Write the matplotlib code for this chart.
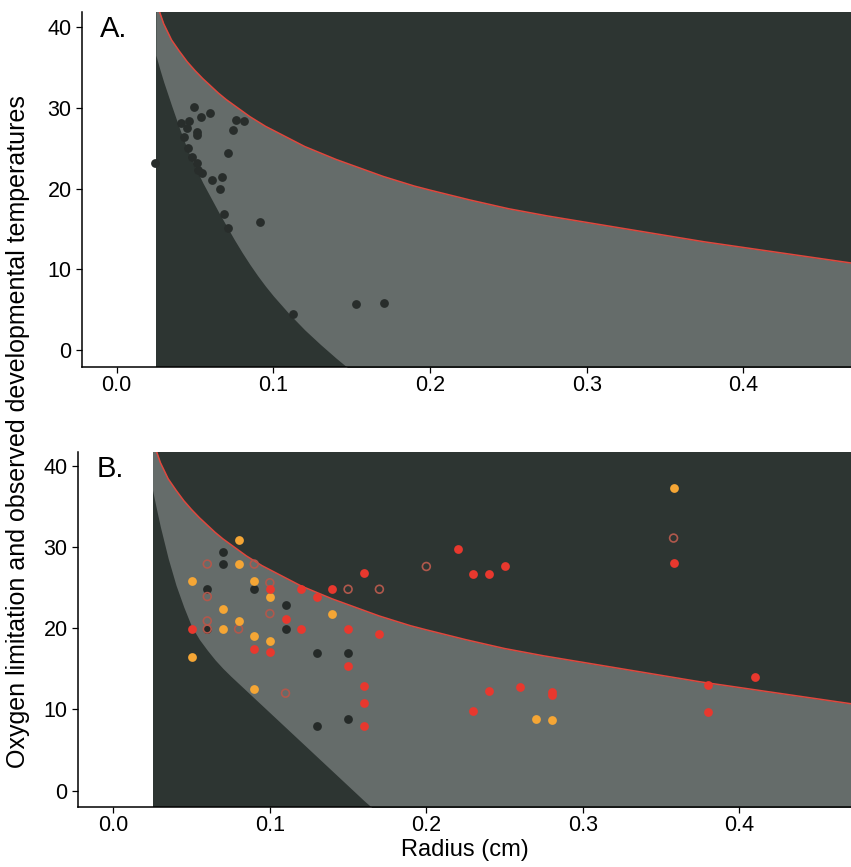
import matplotlib

matplotlib.use("Agg")

import matplotlib.pyplot as plt

# boundary curves (radius in cm, temperature)
curve_r = [0.025, 0.0275, 0.03, 0.035, 0.04, 0.045, 0.05, 0.055, 0.06, 0.065,
           0.07, 0.075, 0.08, 0.085, 0.09, 0.095, 0.10, 0.11, 0.12, 0.13,
           0.14, 0.15, 0.16, 0.17, 0.18, 0.19, 0.20, 0.225, 0.25, 0.275,
           0.30, 0.325, 0.35, 0.375, 0.40, 0.425, 0.45, 0.475]
upper_T = [43.3, 41.8, 40.4, 38.4, 37.0, 35.7, 34.6, 33.6, 32.7, 31.8,
           31.0, 30.3, 29.6, 28.9, 28.3, 27.7, 27.2, 26.2, 25.2, 24.4,
           23.6, 22.9, 22.2, 21.5, 20.9, 20.3, 19.8, 18.6, 17.5, 16.6,
           15.8, 15.0, 14.2, 13.4, 12.7, 12.0, 11.3, 10.6]
lower_T_a = [36.5, 34.8, 33.2, 30.3, 27.5, 24.9, 22.7, 20.7, 18.9, 17.1,
             15.4, 13.7, 12.1, 10.6, 9.2, 7.9, 6.7, 4.5, 2.5, 0.7,
             -1.0, -2.6, -4.1, -5.5, -6.8, -8.0, -9.2, -12.0, -14.5, -16.8,
             -19.0, -21.0, -23.0, -24.8, -26.5, -28.0, -29.5, -31.0]
lower_T_b = [37.0, 34.7, 32.5, 28.6, 25.3, 22.6, 20.2, 18.6, 17.3, 16.1,
             15.05, 14.1, 13.2, 12.3, 11.4, 10.5, 9.6, 7.8, 6.0, 4.2,
             2.4, 0.6, -1.2, -2.9, -4.6, -6.2, -7.8, -11.0, -14.0, -16.5,
             -19.0, -21.0, -23.0, -24.8, -26.5, -28.0, -29.5, -31.0]
fill_start = 0.025

# panel A observations
a_r = [0.0495, 0.0595, 0.0463, 0.0538, 0.0759, 0.0814, 0.0447, 0.0514, 0.0514,
       0.0744, 0.041, 0.0431, 0.0712, 0.0457, 0.0479, 0.051, 0.0521, 0.0542,
       0.0606, 0.0674, 0.0659, 0.0685, 0.0712, 0.0244, 0.0915, 0.1127, 0.1527,
       0.1706]
a_T = [30.05, 29.4, 28.4, 28.8, 28.5, 28.4, 27.45, 27.0, 26.6,
       27.2, 28.1, 26.4, 24.4, 25.0, 23.9, 23.1, 22.3, 21.9,
       21.0, 21.4, 19.9, 16.9, 15.1, 23.2, 15.9, 4.5, 5.7,
       5.8]

# panel B observations, by group
b_black_r = [0.07, 0.07, 0.06, 0.09, 0.11, 0.11, 0.06, 0.13, 0.15, 0.15, 0.13]
b_black_T = [29.4, 27.9, 24.8, 24.8, 22.9, 19.9, 19.9, 17.0, 17.0, 8.8, 7.9]

b_open_r = [0.06, 0.09, 0.10, 0.06, 0.10, 0.06, 0.06, 0.08, 0.15, 0.17, 0.20,
            0.11, 0.358]
b_open_T = [27.9, 27.9, 25.6, 23.9, 21.8, 20.9, 19.9, 19.9, 24.8, 24.8, 27.6,
            12.0, 31.1]

b_orange_r = [0.08, 0.08, 0.09, 0.10, 0.05, 0.07, 0.14, 0.08, 0.07, 0.09, 0.10,
              0.05, 0.09, 0.358, 0.27, 0.28]
b_orange_T = [30.8, 27.9, 25.8, 23.8, 25.8, 22.4, 21.8, 20.9, 19.9, 19.0, 18.4,
              16.4, 12.5, 37.3, 8.8, 8.7]

b_red_r = [0.05, 0.10, 0.12, 0.13, 0.14, 0.16, 0.11, 0.12, 0.15, 0.17, 0.09,
           0.10, 0.15, 0.16, 0.16, 0.16, 0.22, 0.23, 0.24, 0.25, 0.358, 0.38,
           0.41, 0.38, 0.24, 0.26, 0.28, 0.28, 0.23]
b_red_T = [19.9, 24.8, 24.8, 23.9, 24.8, 26.8, 21.1, 19.9, 19.9, 19.25, 17.4,
           17.1, 15.35, 12.9, 10.8, 7.9, 29.7, 26.7, 26.7, 27.7, 28.0, 13.0,
           14.0, 9.7, 12.3, 12.8, 12.2, 11.8, 9.8]

x_ticks = [0.0, 0.1, 0.2, 0.3, 0.4]
y_ticks = [0, 10, 20, 30, 40]

DARK = "#2d3532"
LIGHT = "#656c6a"
LINE = "#e0473d"


def set_style() -> None:
    plt.rcParams.update(
        {
            "font.family": ["Liberation Sans", "DejaVu Sans"],
            "axes.linewidth": 1.1,
            "axes.spines.top": False,
            "axes.spines.right": False,
            "xtick.major.size": 4.5,
            "ytick.major.size": 4.5,
            "xtick.major.width": 0.9,
            "ytick.major.width": 0.9,
            "xtick.major.pad": 1.5,
            "ytick.major.pad": 3,
            "xtick.labelsize": 15.5,
            "ytick.labelsize": 15.5,
        }
    )


def draw_background(ax, lower, xlim, ylim):
    ax.axvspan(fill_start, xlim[1], color=DARK, lw=0, zorder=0)
    ax.fill_between(curve_r, lower, upper_T, color=LIGHT, lw=0, zorder=1)
    ax.plot(curve_r, upper_T, color=LINE, lw=1.1, zorder=2)
    ax.set_xlim(*xlim)
    ax.set_ylim(*ylim)
    ax.set_xticks(x_ticks)
    ax.set_xticklabels([f"{t:.1f}" for t in x_ticks])
    ax.set_yticks(y_ticks)


set_style()
fig = plt.figure(figsize=(8.51, 8.67), dpi=100)

ax_a = fig.add_axes([0.0964, 0.5767, 0.9036, 0.4095])
draw_background(ax_a, lower_T_a, (-0.0221, 0.4686), (-2.1, 41.86))
ax_a.scatter(a_r, a_T, s=40, color="#282d2b", lw=0, zorder=3)
ax_a.text(0.0234, 0.93, "A.", transform=ax_a.transAxes, fontsize=21,
          va="baseline", ha="left")

ax_b = fig.add_axes([0.0917, 0.0696, 0.9083, 0.4091])
draw_background(ax_b, lower_T_b, (-0.0226, 0.4714), (-1.97, 41.7))
ax_b.scatter(b_black_r, b_black_T, s=40, color="#252a28", lw=0, zorder=3)
ax_b.scatter(b_open_r, b_open_T, s=32, facecolors="none",
             edgecolors="#b0584c", linewidths=1.2, zorder=4)
ax_b.scatter(b_orange_r, b_orange_T, s=40, color="#f5a635", lw=0, zorder=5)
ax_b.scatter(b_red_r, b_red_T, s=40, color="#e8382e", lw=0, zorder=6)
ax_b.text(0.024, 0.929, "B.", transform=ax_b.transAxes, fontsize=21,
          va="baseline", ha="left")
ax_b.set_xlabel("Radius (cm)", fontsize=17, labelpad=2)

fig.text(0.021, 0.502, "Oxygen limitation and observed developmental temperatures",
         rotation=90, ha="center", va="center", fontsize=18)

fig.savefig("out.png", dpi=100)
plt.close(fig)
